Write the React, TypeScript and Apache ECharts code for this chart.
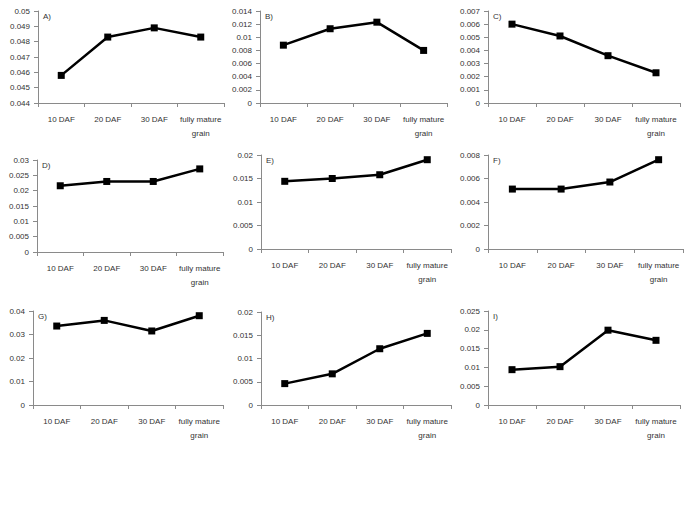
import React, { useEffect, useRef } from "react";
import * as echarts from "echarts";

const categories = ["10 DAF", "20 DAF", "30 DAF", "fully mature\ngrain"];
const panelLabels = ["A)", "B)", "C)", "D)", "E)", "F)", "G)", "H)", "I)"];

const seriesA = [0.0458, 0.0483, 0.0489, 0.0483];
const seriesB = [0.0088, 0.0113, 0.0123, 0.008];
const seriesC = [0.006, 0.0051, 0.0036, 0.0023];
const seriesD = [0.0216, 0.023, 0.023, 0.0271];
const seriesE = [0.0144, 0.015, 0.0158, 0.019];
const seriesF = [0.0051, 0.0051, 0.0057, 0.0076];
const seriesG = [0.0336, 0.036, 0.0315, 0.038];
const seriesH = [0.0046, 0.0067, 0.0121, 0.0154];
const seriesI = [0.0094, 0.0102, 0.0199, 0.0172];

const yMin = [0.044, 0, 0, 0, 0, 0, 0, 0, 0];
const yMax = [0.05, 0.014, 0.007, 0.03, 0.02, 0.008, 0.04, 0.02, 0.025];
const yInterval = [0.001, 0.002, 0.001, 0.005, 0.005, 0.002, 0.01, 0.005, 0.005];

const allSeries = [seriesA, seriesB, seriesC, seriesD, seriesE, seriesF, seriesG, seriesH, seriesI];

// layout (pixels)
const grids = [
  { left: 38, top: 11, width: 186, height: 92 },
  { left: 260, top: 11, width: 187, height: 92 },
  { left: 488, top: 11, width: 192, height: 92 },
  { left: 37, top: 160, width: 186, height: 92 },
  { left: 261, top: 155, width: 190, height: 94 },
  { left: 488, top: 155, width: 195, height: 94 },
  { left: 33, top: 311, width: 190, height: 94 },
  { left: 261, top: 312, width: 190, height: 93 },
  { left: 488, top: 311, width: 192, height: 94 },
];

const FONT = "Liberation Sans";
const TEXT_COLOR = "#333";
const AXIS_COLOR = "#8a8a8a";

export default function App() {
  const ref = useRef<HTMLDivElement>(null);
  useEffect(() => {
    if (!ref.current) return;
    const chart = echarts.init(ref.current, null, { renderer: "svg" });
    const option: any = {
      animation: false,
      backgroundColor: "#fff",
      grid: grids.map((g) => ({ ...g, containLabel: false })),
      xAxis: grids.map((_, i) => ({
        type: "category",
        gridIndex: i,
        data: categories,
        boundaryGap: true,
        axisLine: { lineStyle: { color: AXIS_COLOR, width: 1 } },
        axisTick: { show: true, length: 4, lineStyle: { color: AXIS_COLOR } },
        axisLabel: {
          color: TEXT_COLOR,
          fontSize: 8,
          fontFamily: FONT,
          margin: 9,
          lineHeight: 14,
          interval: 0,
        },
        splitLine: { show: false },
      })),
      yAxis: grids.map((_, i) => ({
        type: "value",
        gridIndex: i,
        min: yMin[i],
        max: yMax[i],
        interval: yInterval[i],
        axisLine: { show: true, lineStyle: { color: AXIS_COLOR, width: 1 } },
        axisTick: { show: true, length: 4, lineStyle: { color: AXIS_COLOR } },
        axisLabel: {
          color: TEXT_COLOR,
          fontSize: 8,
          fontFamily: FONT,
          margin: 8,
          formatter: (v: number) => String(parseFloat(v.toFixed(6))),
        },
        splitLine: { show: false },
      })),
      series: allSeries.map((data, i) => ({
        type: "line",
        xAxisIndex: i,
        yAxisIndex: i,
        data,
        symbol: "rect",
        symbolSize: 7,
        lineStyle: { color: "#000", width: 2.5 },
        itemStyle: { color: "#000" },
      })),
      graphic: panelLabels.map((t, i) => ({
        type: "text",
        x: grids[i].left + 5,
        y: grids[i].top + 5,
        style: {
          text: t,
          fontSize: 8,
          fontFamily: FONT,
          fill: TEXT_COLOR,
          verticalAlign: "middle",
        },
      })),
    };
    chart.setOption(option);
    return () => chart.dispose();
  }, []);
  return (
    <div
      ref={ref}
      style={{ position: "absolute", left: 0, top: 0, width: 685, height: 513 }}
    />
  );
}
